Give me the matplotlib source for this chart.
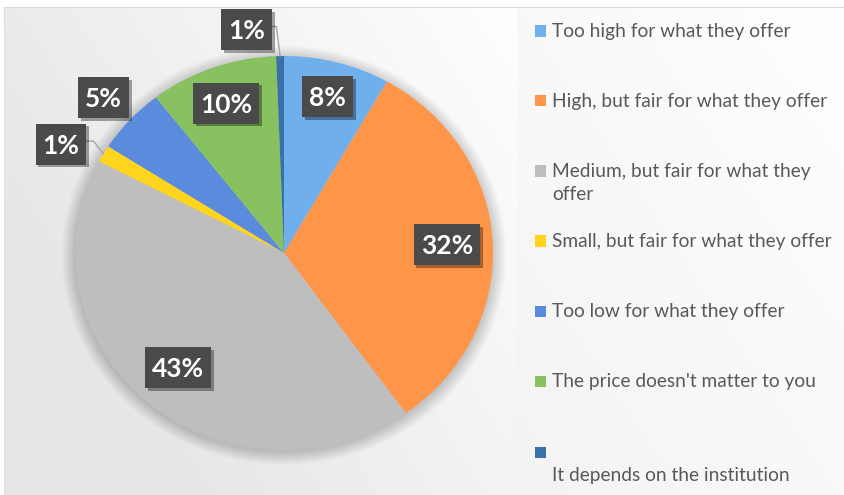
import numpy as np
import matplotlib
matplotlib.use('Agg')
import matplotlib.pyplot as plt
from matplotlib.patches import Ellipse, Rectangle
from matplotlib.lines import Line2D
from matplotlib.transforms import IdentityTransform, offset_copy
import matplotlib.patheffects as pe

# ---------------- data ----------------
categories = ["Too high for what they offer",
              "High, but fair for what they offer",
              "Medium, but fair for what they\noffer",
              "Small, but fair for what they offer",
              "Too low for what they offer",
              "The price doesn't matter to you",
              "\nIt depends on the institution"]
values = [8.2, 31.9, 42.6, 1.4, 5.4, 9.9, 0.6]
colors = ['#6fb0ec', '#ff9549', '#bebebe', '#ffd41c', '#5b8bdc', '#87c160', '#3a70a8']

# ---------------- figure ----------------
W, H, DPI = 844, 495, 100
fig = plt.figure(figsize=(W / DPI, H / DPI), dpi=DPI)

# background gradient
yy, xx = np.mgrid[0:H, 0:W].astype(float)
g = np.clip((1 - xx / 520) * 0.75 + (yy / H) * 0.45, 0, 1)
v = 255 - 26 * g
leg = xx >= 517
g2 = np.clip((1 - (xx - 517) / 327) * 0.5 + (yy / H) * 0.5, 0, 1)
v[leg] = (255 - 12 * g2)[leg]
v[yy < 7] = 255
v[xx < 4] = 255
v[(yy >= 7) & (yy < 8) & (xx >= 4)] = 215
v[(xx >= 4) & (xx < 5) & (yy >= 7)] = 222
img = np.dstack([v, v, v]) / 255.0
bg = fig.add_axes([0, 0, 1, 1], zorder=0)
bg.imshow(img, extent=(0, W, H, 0), aspect='auto', interpolation='bilinear')
bg.set_xlim(0, W)
bg.set_ylim(H, 0)
bg.axis('off')

# pie axes: one data unit = RX px horizontally, RY px vertically
CX, CY, RX, RY = 284, 253, 209, 197
ax = fig.add_axes([0, 0, 1, 1], zorder=1)
ax.patch.set_visible(False)

# soft shadow around pie
for k in range(24):
    s = 1 + 0.0028 * k
    ax.add_patch(Ellipse((0, -0.012), 2 * s, 2 * s, facecolor='black',
                         edgecolor='none', alpha=0.007, zorder=0))

wedges, _ = ax.pie(values, colors=colors, startangle=90, counterclock=False,
                   radius=1, wedgeprops=dict(linewidth=0))
for w in wedges:
    w.set_zorder(2)
ax.set_aspect('auto')
ax.set_xlim(-CX / RX, (W - CX) / RX)
ax.set_ylim(-(H - CY) / RY, CY / RY)
ax.axis('off')

total = sum(values)
label_r = [0.82, 0.78, 0.77, None, 1.17, 0.81, None]
leader_pos = {3: (-1.067, 0.553), 6: (-0.18, 1.135)}
leader_angle = {3: 128, 6: 97}

CAP = 19.0  # px height of digits
text_tr = offset_copy(ax.transData, fig=fig, y=-CAP / 2, units='dots')
texts = []
for i, w in enumerate(wedges):
    mid = np.deg2rad((w.theta1 + w.theta2) / 2)
    txt = f"{values[i] / total * 100:.0f}%"
    pos = leader_pos.get(i)
    if pos is None:
        pos = (label_r[i] * np.cos(mid), label_r[i] * np.sin(mid))
    t = ax.text(pos[0], pos[1], txt, color='white', fontsize=19,
                fontweight='bold', family='Lato', ha='center',
                va='baseline', zorder=6, transform=text_tr)
    texts.append((i, t, mid, pos))

fig.canvas.draw()
renderer = fig.canvas.get_renderer()
PADX, BOXH = 7, 41
for i, t, mid, pos in texts:
    bb = t.get_window_extent(renderer)
    _, cyt = ax.transData.transform(pos)
    x0 = bb.x0 - PADX
    rw = bb.width + 2 * PADX
    y0 = cyt - BOXH / 2
    rect = Rectangle((x0, y0), rw, BOXH, transform=IdentityTransform(),
                     facecolor='#4a4a4a', edgecolor='none', zorder=5, clip_on=False)
    rect.set_path_effects([pe.SimplePatchShadow(offset=(2, -2), shadow_rgbFace='black', alpha=0.35),
                           pe.Normal()])
    ax.add_artist(rect)
    if i in leader_angle:
        px, py = ax.transData.transform((np.cos(mid), np.sin(mid)))
        cy = cyt + 3
        ex = px + (cy - py) / np.tan(np.deg2rad(leader_angle[i]))
        ax.add_artist(Line2D([x0 + rw, ex, px], [cy, cy, py], color='#a6a6a6', lw=1,
                             transform=IdentityTransform(), zorder=4, clip_on=False))

# ---------------- legend ----------------
leg_y = [31, 101, 171, 241, 311, 381, 452]
line_h = 24
for i, (lab, yc) in enumerate(zip(categories, leg_y)):
    fig.add_artist(Rectangle((535 / W, 1 - (yc + 5.5) / H), 11 / W, 11 / H,
                             transform=fig.transFigure, facecolor=colors[i],
                             edgecolor='none', zorder=3))
    for j, line in enumerate(lab.split('\n')):
        if line:
            fig.text(552 / W, 1 - (yc + j * line_h) / H, line, family='Lato',
                     fontsize=13.8, color='#595959', ha='left', va='center', zorder=3)

fig.savefig('out.png', dpi=DPI)
